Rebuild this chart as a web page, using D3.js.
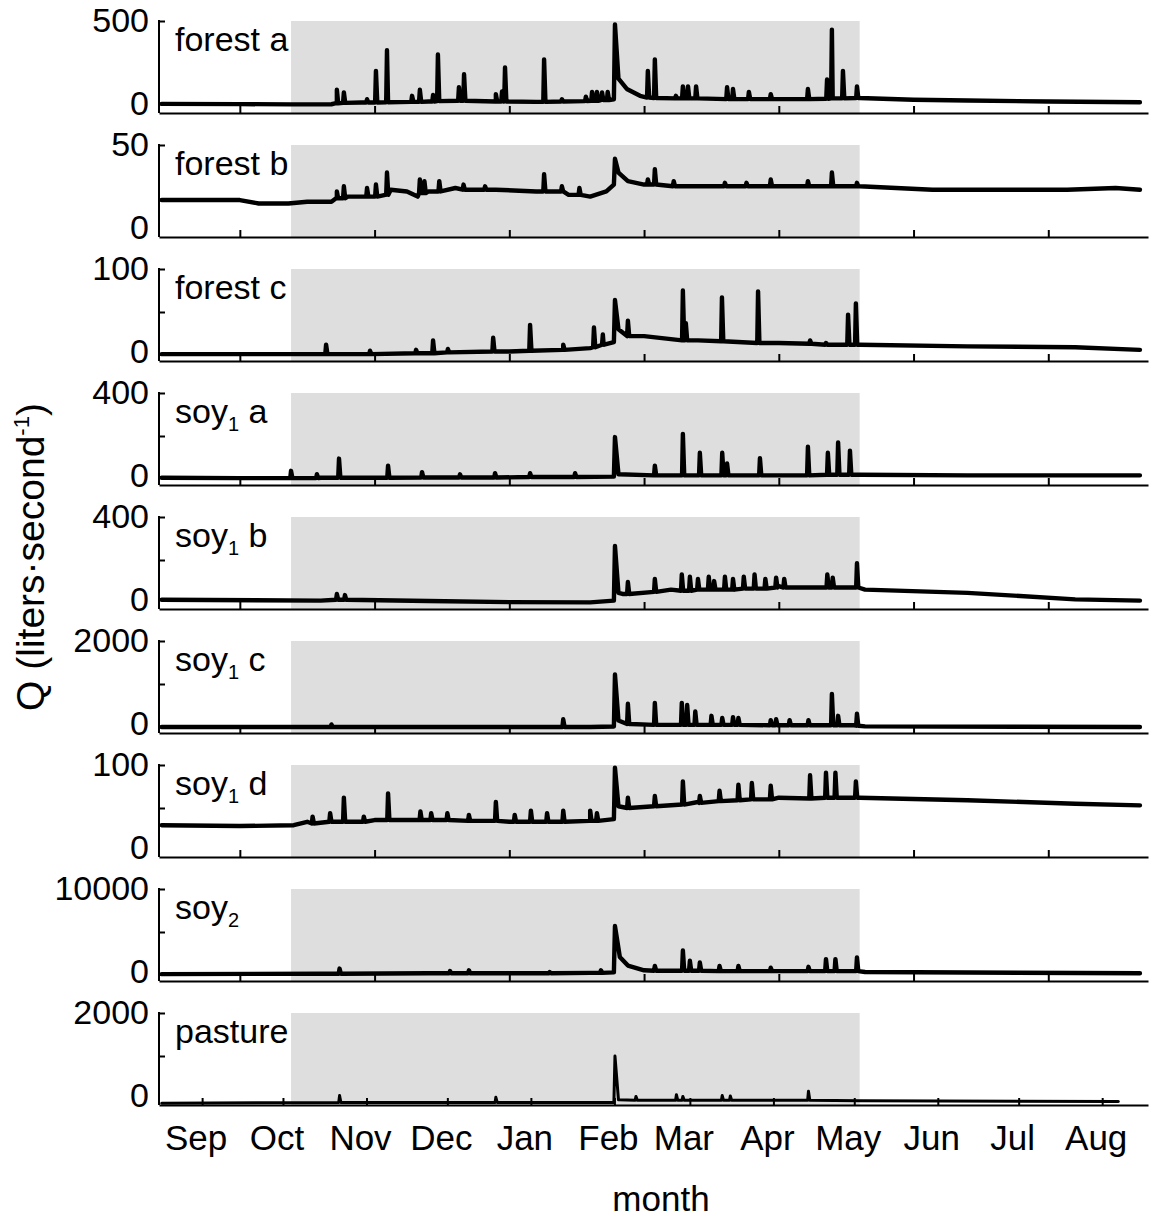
<!DOCTYPE html>
<html>
<head>
<meta charset="utf-8">
<script src="https://cdn.jsdelivr.net/npm/d3@7"></script>
<style>
  body { margin: 0; background: #fff; }
  text { font-family: "Liberation Sans", Arial, Helvetica, sans-serif; fill: #000; }
</style>
</head>
<body>
<div id="chart"></div>
<script>
// time frame: day 0 = 16 Aug 2008
const startDate = new Date(2008, 7, 16);
const endDate = new Date(2009, 7, 18);
const shadeDays = [49, 260];
const tickDays = [30, 80, 130, 180, 230, 280, 330];
const monthLabels = ["Sep", "Oct", "Nov", "Dec", "Jan", "Feb", "Mar", "Apr", "May", "Jun", "Jul", "Aug"];

const panelNames = [["forest", "", " a"], ["forest", "", " b"], ["forest", "", " c"],
  ["soy", "1", " a"], ["soy", "1", " b"], ["soy", "1", " c"], ["soy", "1", " d"],
  ["soy", "2", ""], ["pasture", "", ""]];
const yMax = [500, 50, 100, 400, 400, 2000, 100, 10000, 2000];
const yMid = [null, null, 50, 200, 200, 1000, 50, 5000, 1000];

// baseline as [day, Q], spikes as [day, base, peak]
const forestA_base = [[1,18],[30,17],[49,15],[64,16],[66,22],[75,26],[85,28],[100,32],[112,36],[125,32],[140,30],[150,32],[158,34],[164,40],[168.8,45],[169.2,480],[170.5,165],[173.6,105],[178.5,65],[185,52],[200,50],[230,46],[250,50],[260,52],[280,42],[300,38],[330,32],[364,28]];
const forestA_spikes = [[66,22,100],[68.6,24,85],[77.2,26,45],[80.5,26,210],[84.6,28,330],[93.9,30,65],[96.8,30,100],[101.7,32,70],[103.5,34,305],[111.3,36,115],[113.2,36,190],[125,32,75],[127.3,32,90],[128.4,32,230],[142.9,30,277],[149.5,32,45],[158.4,34,60],[160.7,36,88],[162.5,36,88],[164.4,40,85],[166.5,40,88],[181.4,55,210],[184,52,277],[191.8,50,65],[194.4,50,120],[196.3,50,120],[199.3,50,120],[210.8,46,115],[213,46,105],[218.9,46,88],[227,46,75],[240.8,46,105],[247.9,48,160],[249.7,50,450],[253.8,50,210],[259,52,120]];

const forestB_base = [[1,18],[30,18],[37,16],[48,16],[55,17],[64,17],[66,19],[70,20],[84,21],[86,24],[92,23],[96,20],[100,23],[110,25],[125,24],[140,23],[148,23],[152,21],[160,20],[166,23],[168.8,27],[169.2,42],[170.5,34],[174,29],[180,27],[200,26],[260,26],[287,24],[337,24],[355,25],[364,24]];
const forestB_spikes = [[66,19,23],[68.6,19,26],[77.2,20,25],[80.5,20,27],[84.6,21,34],[96.8,22,30],[98.5,22,29],[104,23,29],[113,24,27],[121,24,26],[142.9,23,33],[149.5,23,26],[156,21,25],[181.4,27,30],[184,27,36],[191,26,29],[210,26,28],[218,26,28],[227,26,30],[240.8,26,29],[249.7,26,34],[259,26,28]];

const forestC_base = [[1,1],[60,1],[100,2],[130,4],[150,6],[160,8],[165,12],[168.8,15],[169.2,64],[170.5,30],[180,22],[200,17],[230,14],[260,12],[300,10],[340,9],[364,6]];
const forestC_spikes = [[62,1,12],[78.3,1,5],[95.4,2,6],[101.7,2,17],[107.2,3,7],[124,4,20],[137.7,5,35],[150,6,12],[161.4,9,32],[164.7,12,24],[174,22,40],[194.4,17,75],[195.5,17,37],[208.9,16,67],[222.3,14,74],[241.6,13,17],[247.5,12,14],[255.7,12,47],[258.6,12,60]];

const soy1A_base = [[1,6],[30,4],[60,6],[100,7],[140,9],[168.8,11],[169.2,195],[170.5,22],[200,17],[230,17],[260,20],[300,17],[364,17]];
const soy1A_spikes = [[49,4,38],[58.6,4,22],[66.8,6,95],[85,6,62],[97.6,7,32],[111.7,7,22],[124.7,7,27],[137.7,9,27],[154.4,9,27],[184,17,62],[194.4,17,210],[200.7,17,122],[209,17,122],[210.8,17,72],[223,17,97],[240.8,17,150],[248.2,20,122],[252,20,170],[256.4,20,132]];

const soy1B_base = [[1,15],[60,11],[100,9],[130,4],[160,3],[168.8,11],[169.2,265],[170.5,47],[172,42],[190,62],[230,78],[258,72],[262,62],[300,47],[340,17],[364,11]];
const soy1B_spikes = [[66,15,42],[69,15,37],[174,42,98],[184,52,112],[194,57,133],[197,57,122],[200,62,112],[204,62,122],[206,62,102],[210,62,122],[213,62,112],[217,67,122],[221,67,133],[225,67,112],[229,72,118],[232,72,112],[248,72,133],[250,72,118],[259,72,185]];

const soy1C_base = [[1,0],[160,0],[168.8,10],[169.2,1220],[170.5,150],[175,70],[200,50],[258,40],[262,15],[364,0]];
const soy1C_spikes = [[64,0,60],[150,0,180],[174,70,540],[184,50,560],[194,50,560],[196,50,510],[199,50,360],[205,50,260],[209,50,210],[213,50,230],[215,50,210],[227,40,160],[229,40,180],[234,40,160],[241,40,160],[249.7,40,770],[252,40,260],[259,30,310]];

const soy1D_base = [[1,30],[30,29],[50,30],[55,34],[80,36],[100,36],[130,34],[160,35],[168.8,37],[169.2,97],[170.5,52],[200,57],[230,62],[260,62],[300,59],[340,55],[364,53]];
const soy1D_spikes = [[57,32,40],[63.5,34,44],[68.6,34,62],[76,34,40],[85,36,67],[97,36,46],[101,36,44],[107,36,44],[115,35,42],[125,35,57],[132,34,42],[138,34,47],[144,34,44],[150,34,47],[160,35,47],[162.5,35,44],[174,50,62],[184,52,64],[194.4,54,81],[200.7,56,64],[208,58,70],[215,59,77],[220,60,79],[227,60,76],[241.6,61,88],[247.5,62,91],[251,62,91],[258.6,62,81]];

const soy2_base = [[1,100],[60,150],[100,200],[160,250],[168.8,300],[169.2,5700],[171,2100],[174,1100],[180,550],[200,500],[258,450],[262,350],[364,200]];
const soy2_spikes = [[67,150,750],[108,200,450],[115,200,550],[145,200,350],[164,250,550],[184,500,1050],[194.4,500,2850],[197,500,1650],[200.7,500,1450],[208,450,1050],[215,450,1050],[227,450,850],[241,450,950],[247.5,450,1850],[251,450,1850],[259,450,2050]];

const pasture_base = [[1,-100],[168.8,-80],[169.2,1000],[170.5,-20],[260,-40],[356,-60]];
const pasture_spikes = [[67,-80,80],[125,-80,40],[177,-30,60],[192,-30,100],[194.4,-30,60],[209,-30,80],[212,-30,70],[241,-30,180]];

const bases = [forestA_base, forestB_base, forestC_base, soy1A_base, soy1B_base, soy1C_base, soy1D_base, soy2_base, pasture_base];
const spikeList = [forestA_spikes, forestB_spikes, forestC_spikes, soy1A_spikes, soy1B_spikes, soy1C_spikes, soy1D_spikes, soy2_spikes, pasture_spikes];

const width = 1151, height = 1221;
const left = 159, right = 1148;
const top0 = 21, step = 124, zeroOff = 86, axisOff = 92;
const fontSize = 34;

const dayToDate = d => new Date(+startDate + d * 864e5);

const svg = d3.select("#chart").append("svg")
  .attr("width", width).attr("height", height)
  .attr("viewBox", [0, 0, width, height]);

const x = d3.scaleTime().domain([startDate, endDate]).range([left, right]);

function buildSeries(base, spikes) {
  let pts = base.map(([d, v]) => ({ d, v }));
  for (let [d, b, p] of spikes) {
    pts.push({ d: d - 0.3, v: b }, { d: d, v: p }, { d: d + 0.5, v: b });
  }
  pts.sort((a, b) => a.d - b.d);
  return pts;
}

panelNames.forEach((name, i) => {
  const top = top0 + step * i;
  const g = svg.append("g");
  const y = d3.scaleLinear().domain([0, yMax[i]]).range([top + zeroOff, top]);
  const isLast = i === panelNames.length - 1;

  // shaded wet season
  g.append("rect")
    .attr("x", x(dayToDate(shadeDays[0])))
    .attr("y", top)
    .attr("width", x(dayToDate(shadeDays[1])) - x(dayToDate(shadeDays[0])))
    .attr("height", axisOff)
    .attr("fill", "#dedede");

  // series
  const data = buildSeries(bases[i], spikeList[i]);
  const line = d3.line().x(p => x(dayToDate(p.d))).y(p => y(p.v));
  g.append("path")
    .datum(data)
    .attr("fill", "none")
    .attr("stroke", "#000")
    .attr("stroke-width", isLast ? 3 : 4.4)
    .attr("stroke-linejoin", "round")
    .attr("stroke-linecap", "round")
    .attr("d", line);

  // x axis
  const xTicks = isLast
    ? d3.timeMonth.range(new Date(2008, 8, 1), new Date(2009, 7, 2))
    : tickDays.map(dayToDate);
  const xAxis = d3.axisBottom(x).tickValues(xTicks).tickSize(-7).tickSizeOuter(0).tickFormat("");
  g.append("g")
    .attr("transform", `translate(0,${top + axisOff})`)
    .call(xAxis)
    .call(a => a.selectAll("line, path").attr("stroke", "#000").attr("stroke-width", 2));

  // y axis
  const ticks = yMid[i] === null ? [0, yMax[i]] : [0, yMid[i], yMax[i]];
  const yAxis = d3.axisLeft(y).tickValues(ticks).tickSize(-6).tickPadding(10)
    .tickFormat(v => (v === 0 || v === yMax[i]) ? v : "");
  g.append("g")
    .attr("transform", `translate(${left},0)`)
    .call(yAxis)
    .call(a => a.select(".domain").remove())
    .call(a => a.selectAll(".tick line").attr("stroke", "#000").attr("stroke-width", 2))
    .call(a => a.selectAll(".tick").filter(v => v === 0).select("line").remove())
    .call(a => a.selectAll(".tick").filter(v => v === 0).select("text").attr("y", -3))
    .call(a => a.selectAll(".tick text").attr("font-size", fontSize).attr("font-family", null))
    .call(a => a.append("line").attr("x1", 0).attr("x2", 0)
      .attr("y1", top - 1).attr("y2", top + axisOff).attr("stroke", "#000").attr("stroke-width", 2));

  // panel label
  const t = g.append("text")
    .attr("x", 175).attr("y", top + 30)
    .attr("font-size", fontSize);
  t.append("tspan").text(name[0]);
  if (name[1]) {
    t.append("tspan").attr("font-size", 20).attr("dy", 8).text(name[1]);
    if (name[2]) t.append("tspan").attr("dy", -8).text(name[2]);
  } else if (name[2]) {
    t.append("tspan").text(name[2]);
  }
});

// month labels under the last panel
const lastAxis = top0 + step * (panelNames.length - 1) + axisOff;
const months = d3.timeMonth.range(new Date(2008, 8, 1), new Date(2009, 7, 2));
svg.append("g").selectAll("text")
  .data(months)
  .join("text")
  .attr("x", (m) => x(m) - 6)
  .attr("y", lastAxis + 45)
  .attr("text-anchor", "middle")
  .attr("font-size", 35)
  .text((m, j) => monthLabels[j]);

svg.append("text")
  .attr("x", 661)
  .attr("y", 1211)
  .attr("text-anchor", "middle")
  .attr("font-size", 35)
  .text("month");

// y title
const yt = svg.append("text")
  .attr("transform", "translate(44,557) rotate(-90)")
  .attr("text-anchor", "middle")
  .attr("font-size", 39);
yt.append("tspan").text("Q (liters·second");
yt.append("tspan").attr("font-size", 22).attr("dy", -15).text("-1");
yt.append("tspan").attr("dy", 15).text(")");
</script>
</body>
</html>
